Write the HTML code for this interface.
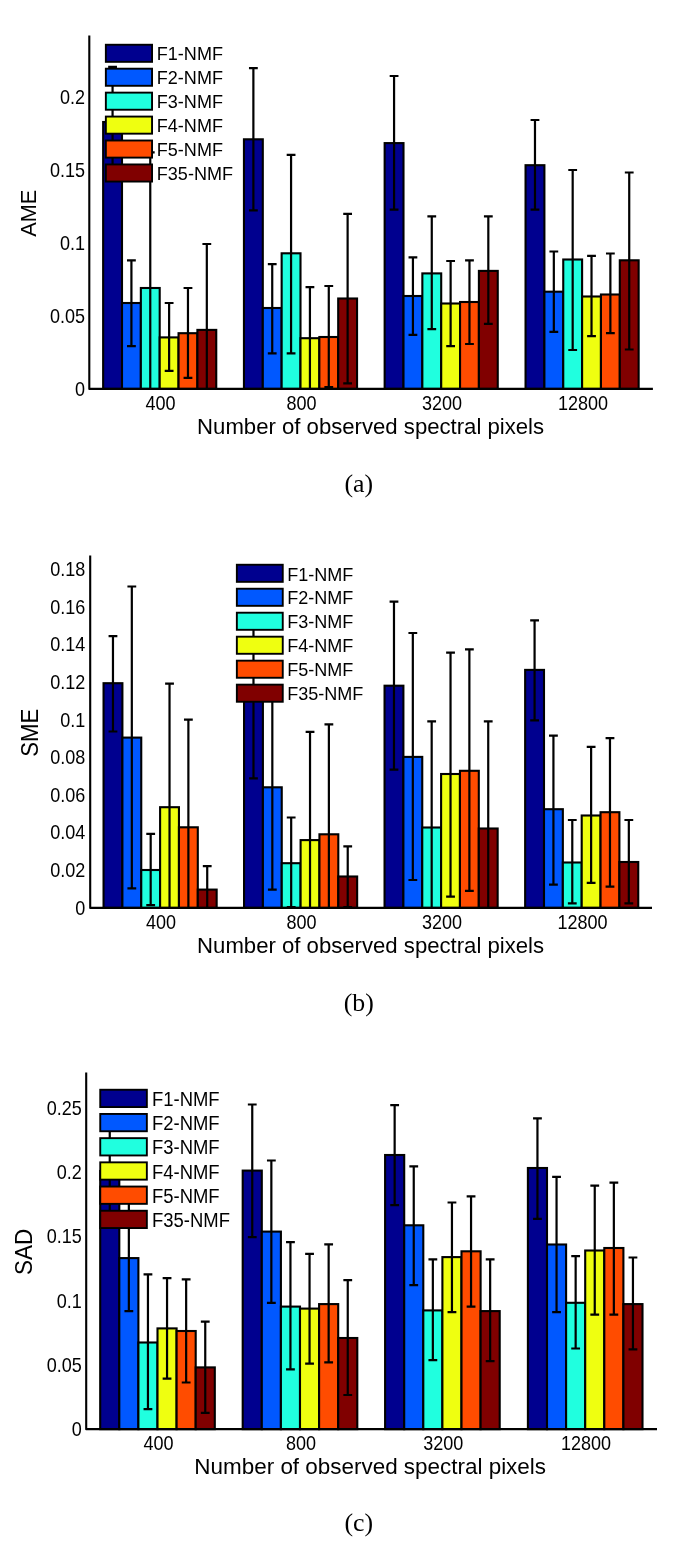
<!DOCTYPE html>
<html lang="en">
<head>
<meta charset="utf-8">
<title>NMF error comparison</title>
<style>
html,body{margin:0;padding:0;background:#fff;}
svg{display:block;}
.s{font-family:"Liberation Sans",Arial,Helvetica,sans-serif;fill:#000;}
.r{font-family:"Liberation Serif","Times New Roman",Times,serif;fill:#000;}
.k{stroke:#000;stroke-width:2.1;fill:none;stroke-linejoin:round;}
.e{stroke:#000;stroke-width:2.2;fill:none;}
</style>
</head>
<body>
<svg width="685" height="1549" viewBox="0 0 685 1549">
<rect width="685" height="1549" fill="#fff"/>
<g id="chart-a">
<rect x="103.15" y="122" width="18.85" height="266.9" fill="#00008F" stroke="#000" stroke-width="2.1"/>
<rect x="122" y="303" width="18.85" height="85.9" fill="#0058FF" stroke="#000" stroke-width="2.1"/>
<rect x="140.85" y="288" width="18.85" height="100.9" fill="#20FFDF" stroke="#000" stroke-width="2.1"/>
<rect x="159.7" y="337.4" width="18.85" height="51.5" fill="#EFFF10" stroke="#000" stroke-width="2.1"/>
<rect x="178.55" y="333.2" width="18.85" height="55.7" fill="#FF4C00" stroke="#000" stroke-width="2.1"/>
<rect x="197.4" y="329.9" width="18.85" height="59" fill="#800000" stroke="#000" stroke-width="2.1"/>
<rect x="243.95" y="139.3" width="18.85" height="249.6" fill="#00008F" stroke="#000" stroke-width="2.1"/>
<rect x="262.8" y="308" width="18.85" height="80.9" fill="#0058FF" stroke="#000" stroke-width="2.1"/>
<rect x="281.65" y="253.3" width="18.85" height="135.6" fill="#20FFDF" stroke="#000" stroke-width="2.1"/>
<rect x="300.5" y="338.2" width="18.85" height="50.7" fill="#EFFF10" stroke="#000" stroke-width="2.1"/>
<rect x="319.35" y="337" width="18.85" height="51.9" fill="#FF4C00" stroke="#000" stroke-width="2.1"/>
<rect x="338.2" y="298.5" width="18.85" height="90.4" fill="#800000" stroke="#000" stroke-width="2.1"/>
<rect x="384.65" y="143.1" width="18.85" height="245.8" fill="#00008F" stroke="#000" stroke-width="2.1"/>
<rect x="403.5" y="296" width="18.85" height="92.9" fill="#0058FF" stroke="#000" stroke-width="2.1"/>
<rect x="422.35" y="273.4" width="18.85" height="115.5" fill="#20FFDF" stroke="#000" stroke-width="2.1"/>
<rect x="441.2" y="303.5" width="18.85" height="85.4" fill="#EFFF10" stroke="#000" stroke-width="2.1"/>
<rect x="460.05" y="302" width="18.85" height="86.9" fill="#FF4C00" stroke="#000" stroke-width="2.1"/>
<rect x="478.9" y="270.9" width="18.85" height="118" fill="#800000" stroke="#000" stroke-width="2.1"/>
<rect x="525.55" y="165.2" width="18.85" height="223.7" fill="#00008F" stroke="#000" stroke-width="2.1"/>
<rect x="544.4" y="291.7" width="18.85" height="97.2" fill="#0058FF" stroke="#000" stroke-width="2.1"/>
<rect x="563.25" y="259.5" width="18.85" height="129.4" fill="#20FFDF" stroke="#000" stroke-width="2.1"/>
<rect x="582.1" y="296.5" width="18.85" height="92.4" fill="#EFFF10" stroke="#000" stroke-width="2.1"/>
<rect x="600.95" y="294.5" width="18.85" height="94.4" fill="#FF4C00" stroke="#000" stroke-width="2.1"/>
<rect x="619.8" y="260.3" width="18.85" height="128.6" fill="#800000" stroke="#000" stroke-width="2.1"/>
<path class="e" d="M112.57 66.9V180M108.17 66.9H116.97M108.17 180H116.97"/>
<path class="e" d="M131.42 260.3V346.2M127.02 260.3H135.82M127.02 346.2H135.82"/>
<path class="e" d="M150.27 152.3V388.9M145.87 152.3H154.67"/>
<path class="e" d="M169.12 303V370.9M164.72 303H173.53M164.72 370.9H173.53"/>
<path class="e" d="M187.97 288V377.9M183.57 288H192.38M183.57 377.9H192.38"/>
<path class="e" d="M206.82 244V388.9M202.42 244H211.22"/>
<path class="e" d="M253.38 68.2V210.4M248.97 68.2H257.77M248.97 210.4H257.77"/>
<path class="e" d="M272.23 264.1V353.3M267.83 264.1H276.62M267.83 353.3H276.62"/>
<path class="e" d="M291.07 154.9V353.3M286.68 154.9H295.47M286.68 353.3H295.47"/>
<path class="e" d="M309.93 287.2V388.9M305.53 287.2H314.32"/>
<path class="e" d="M328.78 286V387M324.38 286H333.18M324.38 387H333.18"/>
<path class="e" d="M347.62 213.8V383.4M343.23 213.8H352.02M343.23 383.4H352.02"/>
<path class="e" d="M394.07 76V209.6M389.68 76H398.47M389.68 209.6H398.47"/>
<path class="e" d="M412.93 257.3V334.9M408.53 257.3H417.32M408.53 334.9H417.32"/>
<path class="e" d="M431.77 216.3V329.1M427.38 216.3H436.17M427.38 329.1H436.17"/>
<path class="e" d="M450.62 261V346.2M446.23 261H455.02M446.23 346.2H455.02"/>
<path class="e" d="M469.47 260.3V344M465.07 260.3H473.87M465.07 344H473.87"/>
<path class="e" d="M488.32 216.3V323.9M483.93 216.3H492.72M483.93 323.9H492.72"/>
<path class="e" d="M534.98 120V209.6M530.58 120H539.38M530.58 209.6H539.38"/>
<path class="e" d="M553.83 251.5V331.9M549.43 251.5H558.23M549.43 331.9H558.23"/>
<path class="e" d="M572.68 170V350M568.28 170H577.08M568.28 350H577.08"/>
<path class="e" d="M591.52 255.8V336.2M587.12 255.8H595.92M587.12 336.2H595.92"/>
<path class="e" d="M610.38 253.5V333.2M605.98 253.5H614.77M605.98 333.2H614.77"/>
<path class="e" d="M629.23 172.5V349.5M624.83 172.5H633.62M624.83 349.5H633.62"/>
<path class="k" d="M89.3 35.6V388.9H652.9"/>
<rect x="105.85" y="44.75" width="46.2" height="17.1" fill="#00008F" stroke="#000" stroke-width="1.9"/>
<text class="s" transform="translate(156.8 60.2) scale(0.94 1)" font-size="19.2">F1-NMF</text>
<rect x="105.85" y="68.69" width="46.2" height="17.1" fill="#0058FF" stroke="#000" stroke-width="1.9"/>
<text class="s" transform="translate(156.8 84.14) scale(0.94 1)" font-size="19.2">F2-NMF</text>
<rect x="105.85" y="92.63" width="46.2" height="17.1" fill="#20FFDF" stroke="#000" stroke-width="1.9"/>
<text class="s" transform="translate(156.8 108.08) scale(0.94 1)" font-size="19.2">F3-NMF</text>
<rect x="105.85" y="116.57" width="46.2" height="17.1" fill="#EFFF10" stroke="#000" stroke-width="1.9"/>
<text class="s" transform="translate(156.8 132.02) scale(0.94 1)" font-size="19.2">F4-NMF</text>
<rect x="105.85" y="140.51" width="46.2" height="17.1" fill="#FF4C00" stroke="#000" stroke-width="1.9"/>
<text class="s" transform="translate(156.8 155.96) scale(0.94 1)" font-size="19.2">F5-NMF</text>
<rect x="105.85" y="164.45" width="46.2" height="17.1" fill="#800000" stroke="#000" stroke-width="1.9"/>
<text class="s" transform="translate(156.8 179.9) scale(0.94 1)" font-size="19.2">F35-NMF</text>
<text class="s" transform="translate(85.1 396.4) scale(0.91 1)" font-size="19.8" text-anchor="end">0</text>
<text class="s" transform="translate(85.1 323.3) scale(0.91 1)" font-size="19.8" text-anchor="end">0.05</text>
<text class="s" transform="translate(85.1 250.2) scale(0.91 1)" font-size="19.8" text-anchor="end">0.1</text>
<text class="s" transform="translate(85.1 177.1) scale(0.91 1)" font-size="19.8" text-anchor="end">0.15</text>
<text class="s" transform="translate(85.1 104) scale(0.91 1)" font-size="19.8" text-anchor="end">0.2</text>
<text class="s" transform="translate(160.6 409.9) scale(0.91 1)" font-size="19.8" text-anchor="middle">400</text>
<text class="s" transform="translate(301.4 409.9) scale(0.91 1)" font-size="19.8" text-anchor="middle">800</text>
<text class="s" transform="translate(442.1 409.9) scale(0.91 1)" font-size="19.8" text-anchor="middle">3200</text>
<text class="s" transform="translate(583 409.9) scale(0.91 1)" font-size="19.8" text-anchor="middle">12800</text>
<text class="s" x="370.6" y="434.3" font-size="22.15" text-anchor="middle">Number of observed spectral pixels</text>
<text class="s" transform="translate(36.3 213.25) rotate(-90) scale(0.947 1)" font-size="23.0" text-anchor="middle">AME</text>
<text class="r" transform="translate(358.7 491.7) scale(1.0 1)" font-size="25.8" text-anchor="middle">(a)</text>
</g>
<g id="chart-b">
<rect x="103.55" y="683.2" width="18.85" height="224.7" fill="#00008F" stroke="#000" stroke-width="2.1"/>
<rect x="122.4" y="737.6" width="18.85" height="170.3" fill="#0058FF" stroke="#000" stroke-width="2.1"/>
<rect x="141.25" y="870" width="18.85" height="37.9" fill="#20FFDF" stroke="#000" stroke-width="2.1"/>
<rect x="160.1" y="807.2" width="18.85" height="100.7" fill="#EFFF10" stroke="#000" stroke-width="2.1"/>
<rect x="178.95" y="827.3" width="18.85" height="80.6" fill="#FF4C00" stroke="#000" stroke-width="2.1"/>
<rect x="197.8" y="889.6" width="18.85" height="18.3" fill="#800000" stroke="#000" stroke-width="2.1"/>
<rect x="244.05" y="698" width="18.85" height="209.9" fill="#00008F" stroke="#000" stroke-width="2.1"/>
<rect x="262.9" y="787.3" width="18.85" height="120.6" fill="#0058FF" stroke="#000" stroke-width="2.1"/>
<rect x="281.75" y="863.2" width="18.85" height="44.7" fill="#20FFDF" stroke="#000" stroke-width="2.1"/>
<rect x="300.6" y="840.1" width="18.85" height="67.8" fill="#EFFF10" stroke="#000" stroke-width="2.1"/>
<rect x="319.45" y="834.3" width="18.85" height="73.6" fill="#FF4C00" stroke="#000" stroke-width="2.1"/>
<rect x="338.3" y="876.5" width="18.85" height="31.4" fill="#800000" stroke="#000" stroke-width="2.1"/>
<rect x="384.55" y="685.7" width="18.85" height="222.2" fill="#00008F" stroke="#000" stroke-width="2.1"/>
<rect x="403.4" y="756.9" width="18.85" height="151" fill="#0058FF" stroke="#000" stroke-width="2.1"/>
<rect x="422.25" y="827.5" width="18.85" height="80.4" fill="#20FFDF" stroke="#000" stroke-width="2.1"/>
<rect x="441.1" y="774" width="18.85" height="133.9" fill="#EFFF10" stroke="#000" stroke-width="2.1"/>
<rect x="459.95" y="770.8" width="18.85" height="137.1" fill="#FF4C00" stroke="#000" stroke-width="2.1"/>
<rect x="478.8" y="828.5" width="18.85" height="79.4" fill="#800000" stroke="#000" stroke-width="2.1"/>
<rect x="525.15" y="669.9" width="18.85" height="238" fill="#00008F" stroke="#000" stroke-width="2.1"/>
<rect x="544" y="809.2" width="18.85" height="98.7" fill="#0058FF" stroke="#000" stroke-width="2.1"/>
<rect x="562.85" y="862.5" width="18.85" height="45.4" fill="#20FFDF" stroke="#000" stroke-width="2.1"/>
<rect x="581.7" y="815.5" width="18.85" height="92.4" fill="#EFFF10" stroke="#000" stroke-width="2.1"/>
<rect x="600.55" y="812.2" width="18.85" height="95.7" fill="#FF4C00" stroke="#000" stroke-width="2.1"/>
<rect x="619.4" y="862" width="18.85" height="45.9" fill="#800000" stroke="#000" stroke-width="2.1"/>
<path class="e" d="M112.97 636.2V731.5M108.57 636.2H117.37M108.57 731.5H117.37"/>
<path class="e" d="M131.82 586.5V888.3M127.42 586.5H136.22M127.42 888.3H136.22"/>
<path class="e" d="M150.68 833.8V905.2M146.28 833.8H155.08M146.28 905.2H155.08"/>
<path class="e" d="M169.53 683.7V907.9M165.12 683.7H173.93"/>
<path class="e" d="M188.38 719.6V907.9M183.97 719.6H192.78"/>
<path class="e" d="M207.22 866.2V907.9M202.82 866.2H211.62"/>
<path class="e" d="M253.48 618V778.3M249.08 618H257.88M249.08 778.3H257.88"/>
<path class="e" d="M272.33 686V889.6M267.93 686H276.73M267.93 889.6H276.73"/>
<path class="e" d="M291.18 817.5V907.2M286.78 817.5H295.57M286.78 907.2H295.57"/>
<path class="e" d="M310.03 731.8V907.9M305.63 731.8H314.43"/>
<path class="e" d="M328.88 724.3V907.9M324.48 724.3H333.28"/>
<path class="e" d="M347.73 846.4V907.2M343.33 846.4H352.12M343.33 907.2H352.12"/>
<path class="e" d="M393.98 601.6V769.7M389.58 601.6H398.38M389.58 769.7H398.38"/>
<path class="e" d="M412.83 633V880M408.43 633H417.23M408.43 880H417.23"/>
<path class="e" d="M431.68 721.4V907.9M427.28 721.4H436.07"/>
<path class="e" d="M450.53 652.6V896.6M446.13 652.6H454.93M446.13 896.6H454.93"/>
<path class="e" d="M469.38 649.3V890.9M464.98 649.3H473.78M464.98 890.9H473.78"/>
<path class="e" d="M488.23 721.4V907.9M483.83 721.4H492.62"/>
<path class="e" d="M534.58 620.4V720.4M530.18 620.4H538.98M530.18 720.4H538.98"/>
<path class="e" d="M553.43 735.6V884.6M549.03 735.6H557.83M549.03 884.6H557.83"/>
<path class="e" d="M572.28 820V903.4M567.88 820H576.68M567.88 903.4H576.68"/>
<path class="e" d="M591.12 746.9V882.8M586.73 746.9H595.52M586.73 882.8H595.52"/>
<path class="e" d="M609.98 738.1V886.6M605.58 738.1H614.38M605.58 886.6H614.38"/>
<path class="e" d="M628.83 820V903.4M624.43 820H633.23M624.43 903.4H633.23"/>
<path class="k" d="M90.2 555.6V907.9H652"/>
<rect x="236.85" y="564.75" width="45.9" height="17.1" fill="#00008F" stroke="#000" stroke-width="1.9"/>
<text class="s" transform="translate(287.2 580.5) scale(0.94 1)" font-size="19.2">F1-NMF</text>
<rect x="236.85" y="588.73" width="45.9" height="17.1" fill="#0058FF" stroke="#000" stroke-width="1.9"/>
<text class="s" transform="translate(287.2 604.48) scale(0.94 1)" font-size="19.2">F2-NMF</text>
<rect x="236.85" y="612.71" width="45.9" height="17.1" fill="#20FFDF" stroke="#000" stroke-width="1.9"/>
<text class="s" transform="translate(287.2 628.46) scale(0.94 1)" font-size="19.2">F3-NMF</text>
<rect x="236.85" y="636.69" width="45.9" height="17.1" fill="#EFFF10" stroke="#000" stroke-width="1.9"/>
<text class="s" transform="translate(287.2 652.44) scale(0.94 1)" font-size="19.2">F4-NMF</text>
<rect x="236.85" y="660.67" width="45.9" height="17.1" fill="#FF4C00" stroke="#000" stroke-width="1.9"/>
<text class="s" transform="translate(287.2 676.42) scale(0.94 1)" font-size="19.2">F5-NMF</text>
<rect x="236.85" y="684.65" width="45.9" height="17.1" fill="#800000" stroke="#000" stroke-width="1.9"/>
<text class="s" transform="translate(287.2 700.4) scale(0.94 1)" font-size="19.2">F35-NMF</text>
<text class="s" transform="translate(85.3 914.7) scale(0.91 1)" font-size="19.8" text-anchor="end">0</text>
<text class="s" transform="translate(85.3 877.09) scale(0.91 1)" font-size="19.8" text-anchor="end">0.02</text>
<text class="s" transform="translate(85.3 839.48) scale(0.91 1)" font-size="19.8" text-anchor="end">0.04</text>
<text class="s" transform="translate(85.3 801.86) scale(0.91 1)" font-size="19.8" text-anchor="end">0.06</text>
<text class="s" transform="translate(85.3 764.25) scale(0.91 1)" font-size="19.8" text-anchor="end">0.08</text>
<text class="s" transform="translate(85.3 726.64) scale(0.91 1)" font-size="19.8" text-anchor="end">0.1</text>
<text class="s" transform="translate(85.3 689.03) scale(0.91 1)" font-size="19.8" text-anchor="end">0.12</text>
<text class="s" transform="translate(85.3 651.42) scale(0.91 1)" font-size="19.8" text-anchor="end">0.14</text>
<text class="s" transform="translate(85.3 613.8) scale(0.91 1)" font-size="19.8" text-anchor="end">0.16</text>
<text class="s" transform="translate(85.3 576.19) scale(0.91 1)" font-size="19.8" text-anchor="end">0.18</text>
<text class="s" transform="translate(161 928.5) scale(0.91 1)" font-size="19.8" text-anchor="middle">400</text>
<text class="s" transform="translate(301.5 928.5) scale(0.91 1)" font-size="19.8" text-anchor="middle">800</text>
<text class="s" transform="translate(442 928.5) scale(0.91 1)" font-size="19.8" text-anchor="middle">3200</text>
<text class="s" transform="translate(582.6 928.5) scale(0.91 1)" font-size="19.8" text-anchor="middle">12800</text>
<text class="s" x="370.6" y="953" font-size="22.15" text-anchor="middle">Number of observed spectral pixels</text>
<text class="s" transform="translate(37.9 732.75) rotate(-90) scale(0.947 1)" font-size="23.4" text-anchor="middle">SME</text>
<text class="r" transform="translate(358.7 1011.2) scale(1.0 1)" font-size="25.8" text-anchor="middle">(b)</text>
</g>
<g id="chart-c">
<rect x="100.2" y="1171" width="19.1" height="258.15" fill="#00008F" stroke="#000" stroke-width="2.1"/>
<rect x="119.3" y="1258.1" width="19.1" height="171.05" fill="#0058FF" stroke="#000" stroke-width="2.1"/>
<rect x="138.4" y="1342.5" width="19.1" height="86.65" fill="#20FFDF" stroke="#000" stroke-width="2.1"/>
<rect x="157.5" y="1328.4" width="19.1" height="100.75" fill="#EFFF10" stroke="#000" stroke-width="2.1"/>
<rect x="176.6" y="1331" width="19.1" height="98.15" fill="#FF4C00" stroke="#000" stroke-width="2.1"/>
<rect x="195.7" y="1367.4" width="19.1" height="61.75" fill="#800000" stroke="#000" stroke-width="2.1"/>
<rect x="242.7" y="1170.6" width="19.1" height="258.55" fill="#00008F" stroke="#000" stroke-width="2.1"/>
<rect x="261.8" y="1231.6" width="19.1" height="197.55" fill="#0058FF" stroke="#000" stroke-width="2.1"/>
<rect x="280.9" y="1306.6" width="19.1" height="122.55" fill="#20FFDF" stroke="#000" stroke-width="2.1"/>
<rect x="300" y="1308.6" width="19.1" height="120.55" fill="#EFFF10" stroke="#000" stroke-width="2.1"/>
<rect x="319.1" y="1304.1" width="19.1" height="125.05" fill="#FF4C00" stroke="#000" stroke-width="2.1"/>
<rect x="338.2" y="1338" width="19.1" height="91.15" fill="#800000" stroke="#000" stroke-width="2.1"/>
<rect x="385.1" y="1155" width="19.1" height="274.15" fill="#00008F" stroke="#000" stroke-width="2.1"/>
<rect x="404.2" y="1225.3" width="19.1" height="203.85" fill="#0058FF" stroke="#000" stroke-width="2.1"/>
<rect x="423.3" y="1310.4" width="19.1" height="118.75" fill="#20FFDF" stroke="#000" stroke-width="2.1"/>
<rect x="442.4" y="1257.1" width="19.1" height="172.05" fill="#EFFF10" stroke="#000" stroke-width="2.1"/>
<rect x="461.5" y="1251.3" width="19.1" height="177.85" fill="#FF4C00" stroke="#000" stroke-width="2.1"/>
<rect x="480.6" y="1311.1" width="19.1" height="118.05" fill="#800000" stroke="#000" stroke-width="2.1"/>
<rect x="527.9" y="1168" width="19.1" height="261.15" fill="#00008F" stroke="#000" stroke-width="2.1"/>
<rect x="547" y="1244.5" width="19.1" height="184.65" fill="#0058FF" stroke="#000" stroke-width="2.1"/>
<rect x="566.1" y="1302.8" width="19.1" height="126.35" fill="#20FFDF" stroke="#000" stroke-width="2.1"/>
<rect x="585.2" y="1250.5" width="19.1" height="178.65" fill="#EFFF10" stroke="#000" stroke-width="2.1"/>
<rect x="604.3" y="1248" width="19.1" height="181.15" fill="#FF4C00" stroke="#000" stroke-width="2.1"/>
<rect x="623.4" y="1304.1" width="19.1" height="125.05" fill="#800000" stroke="#000" stroke-width="2.1"/>
<path class="e" d="M109.75 1122V1220M105.35 1122H114.15M105.35 1220H114.15"/>
<path class="e" d="M128.85 1203V1311.1M124.45 1203H133.25M124.45 1311.1H133.25"/>
<path class="e" d="M147.95 1274.4V1409.1M143.55 1274.4H152.35M143.55 1409.1H152.35"/>
<path class="e" d="M167.05 1278.2V1378.7M162.65 1278.2H171.45M162.65 1378.7H171.45"/>
<path class="e" d="M186.15 1279.4V1382.5M181.75 1279.4H190.55M181.75 1382.5H190.55"/>
<path class="e" d="M205.25 1321.7V1412.9M200.85 1321.7H209.65M200.85 1412.9H209.65"/>
<path class="e" d="M252.25 1104.5V1237.1M247.85 1104.5H256.65M247.85 1237.1H256.65"/>
<path class="e" d="M271.35 1160.5V1302.8M266.95 1160.5H275.75M266.95 1302.8H275.75"/>
<path class="e" d="M290.45 1242.2V1369.4M286.05 1242.2H294.85M286.05 1369.4H294.85"/>
<path class="e" d="M309.55 1253.8V1363.6M305.15 1253.8H313.95M305.15 1363.6H313.95"/>
<path class="e" d="M328.65 1244.3V1362.4M324.25 1244.3H333.05M324.25 1362.4H333.05"/>
<path class="e" d="M347.75 1280.2V1395M343.35 1280.2H352.15M343.35 1395H352.15"/>
<path class="e" d="M394.65 1105.2V1205.2M390.25 1105.2H399.05M390.25 1205.2H399.05"/>
<path class="e" d="M413.75 1166.3V1285.2M409.35 1166.3H418.15M409.35 1285.2H418.15"/>
<path class="e" d="M432.85 1259.3V1360.1M428.45 1259.3H437.25M428.45 1360.1H437.25"/>
<path class="e" d="M451.95 1202.5V1312.1M447.55 1202.5H456.35M447.55 1312.1H456.35"/>
<path class="e" d="M471.05 1196.4V1306.6M466.65 1196.4H475.45M466.65 1306.6H475.45"/>
<path class="e" d="M490.15 1259.3V1361.1M485.75 1259.3H494.55M485.75 1361.1H494.55"/>
<path class="e" d="M537.45 1118.3V1218.8M533.05 1118.3H541.85M533.05 1218.8H541.85"/>
<path class="e" d="M556.55 1176.8V1312.1M552.15 1176.8H560.95M552.15 1312.1H560.95"/>
<path class="e" d="M575.65 1256.2V1348.5M571.25 1256.2H580.05M571.25 1348.5H580.05"/>
<path class="e" d="M594.75 1185.6V1314.6M590.35 1185.6H599.15M590.35 1314.6H599.15"/>
<path class="e" d="M613.85 1182.6V1314.6M609.45 1182.6H618.25M609.45 1314.6H618.25"/>
<path class="e" d="M632.95 1257.5V1349.3M628.55 1257.5H637.35M628.55 1349.3H637.35"/>
<path class="k" d="M86.2 1072.6V1429.15H657"/>
<rect x="100.25" y="1089.75" width="46.6" height="17.3" fill="#00008F" stroke="#000" stroke-width="1.9"/>
<text class="s" transform="translate(152 1105.9) scale(0.94 1)" font-size="19.65">F1-NMF</text>
<rect x="100.25" y="1113.95" width="46.6" height="17.3" fill="#0058FF" stroke="#000" stroke-width="1.9"/>
<text class="s" transform="translate(152 1130.1) scale(0.94 1)" font-size="19.65">F2-NMF</text>
<rect x="100.25" y="1138.15" width="46.6" height="17.3" fill="#20FFDF" stroke="#000" stroke-width="1.9"/>
<text class="s" transform="translate(152 1154.3) scale(0.94 1)" font-size="19.65">F3-NMF</text>
<rect x="100.25" y="1162.35" width="46.6" height="17.3" fill="#EFFF10" stroke="#000" stroke-width="1.9"/>
<text class="s" transform="translate(152 1178.5) scale(0.94 1)" font-size="19.65">F4-NMF</text>
<rect x="100.25" y="1186.55" width="46.6" height="17.3" fill="#FF4C00" stroke="#000" stroke-width="1.9"/>
<text class="s" transform="translate(152 1202.7) scale(0.94 1)" font-size="19.65">F5-NMF</text>
<rect x="100.25" y="1210.75" width="46.6" height="17.3" fill="#800000" stroke="#000" stroke-width="1.9"/>
<text class="s" transform="translate(152 1226.9) scale(0.94 1)" font-size="19.65">F35-NMF</text>
<text class="s" transform="translate(81.8 1436.4) scale(0.91 1)" font-size="19.8" text-anchor="end">0</text>
<text class="s" transform="translate(81.8 1372.08) scale(0.91 1)" font-size="19.8" text-anchor="end">0.05</text>
<text class="s" transform="translate(81.8 1307.76) scale(0.91 1)" font-size="19.8" text-anchor="end">0.1</text>
<text class="s" transform="translate(81.8 1243.44) scale(0.91 1)" font-size="19.8" text-anchor="end">0.15</text>
<text class="s" transform="translate(81.8 1179.12) scale(0.91 1)" font-size="19.8" text-anchor="end">0.2</text>
<text class="s" transform="translate(81.8 1114.8) scale(0.91 1)" font-size="19.8" text-anchor="end">0.25</text>
<text class="s" transform="translate(158.4 1449.9) scale(0.91 1)" font-size="19.8" text-anchor="middle">400</text>
<text class="s" transform="translate(300.9 1449.9) scale(0.91 1)" font-size="19.8" text-anchor="middle">800</text>
<text class="s" transform="translate(443.3 1449.9) scale(0.91 1)" font-size="19.8" text-anchor="middle">3200</text>
<text class="s" transform="translate(586.1 1449.9) scale(0.91 1)" font-size="19.8" text-anchor="middle">12800</text>
<text class="s" x="370.2" y="1474.3" font-size="22.45" text-anchor="middle">Number of observed spectral pixels</text>
<text class="s" transform="translate(31.9 1251.88) rotate(-90) scale(0.947 1)" font-size="23.7" text-anchor="middle">SAD</text>
<text class="r" transform="translate(358.7 1531.2) scale(1.0 1)" font-size="25.8" text-anchor="middle">(c)</text>
</g>
</svg>
</body>
</html>
